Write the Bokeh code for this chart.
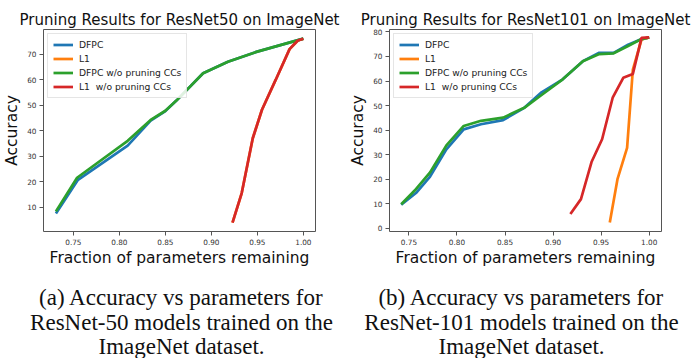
from bokeh.plotting import figure
from bokeh.layouts import row, column
from bokeh.models import Range1d, FixedTicker
from bokeh.core.properties import value
from bokeh.embed import file_html
from bokeh.resources import INLINE

# ---- ResNet50 results (fraction of params remaining vs accuracy) ----
r50_dfpc_x = [0.731, 0.755, 0.809, 0.834, 0.850, 0.862, 0.891, 0.918, 0.948, 1.000]
r50_dfpc_y = [7.5, 20.7, 34.1, 43.9, 47.7, 51.8, 62.5, 67.0, 70.8, 76.1]
r50_l1_x = [0.923, 0.933, 0.945, 0.955, 0.970, 0.985, 0.994, 1.000]
r50_l1_y = [3.9, 15.5, 37.0, 48.2, 60.0, 72.0, 75.4, 76.1]
r50_dfpc_nocc_x = [0.731, 0.754, 0.809, 0.834, 0.850, 0.862, 0.891, 0.918, 0.948, 1.000]
r50_dfpc_nocc_y = [8.3, 21.5, 36.0, 44.2, 47.8, 51.8, 62.5, 67.0, 70.8, 76.1]
r50_l1_nocc_x = [0.923, 0.933, 0.945, 0.955, 0.970, 0.985, 0.994, 1.000]
r50_l1_nocc_y = [3.9, 15.5, 37.0, 48.2, 60.0, 72.0, 75.4, 76.1]

# ---- ResNet101 results ----
r101_dfpc_x = [0.742, 0.758, 0.772, 0.789, 0.807, 0.825, 0.848, 0.870, 0.888, 0.910, 0.931, 0.948, 0.963, 0.978, 0.991, 1.000]
r101_dfpc_y = [9.6, 14.6, 21.1, 32.2, 40.3, 42.4, 44.1, 49.1, 55.4, 60.7, 68.1, 71.5, 71.5, 74.8, 76.9, 77.8]
r101_l1_x = [0.959, 0.967, 0.977, 0.983, 0.992, 1.000]
r101_l1_y = [2.4, 20.0, 32.8, 64.7, 76.9, 77.8]
r101_dfpc_nocc_x = [0.742, 0.756, 0.772, 0.789, 0.807, 0.825, 0.848, 0.870, 0.888, 0.910, 0.931, 0.948, 0.963, 0.978, 0.991, 1.000]
r101_dfpc_nocc_y = [9.8, 15.4, 22.8, 33.8, 41.7, 43.8, 45.1, 49.1, 54.3, 60.7, 68.1, 71.0, 71.3, 74.3, 76.9, 77.8]
r101_l1_nocc_x = [0.918, 0.929, 0.940, 0.951, 0.962, 0.973, 0.983, 0.992, 1.000]
r101_l1_nocc_y = [5.8, 11.9, 27.0, 36.3, 53.2, 61.3, 62.9, 77.6, 77.8]

series_names = ["DFPC", "L1", "DFPC w/o pruning CCs", "L1  w/o pruning CCs"]
series_colors = ["#1f77b4", "#ff7f0e", "#2ca02c", "#d62728"]

x_ticks = [0.75, 0.80, 0.85, 0.90, 0.95, 1.00]
r50_y_ticks = [10, 20, 30, 40, 50, 60, 70]
r101_y_ticks = [0, 10, 20, 30, 40, 50, 60, 70, 80]

captions_a = ["(a) Accuracy vs parameters for", "ResNet-50 models trained on the", "ImageNet dataset."]
captions_b = ["(b) Accuracy vs parameters for", "ResNet-101 models trained on the", "ImageNet dataset."]

FONT = "DejaVu Sans"
SPINE = "#555555"
PANEL_W, CHART_H, CAPTION_H = 346, 280, 78


def chart(title, series, xr, yr, yticks, border_left, frame_w, border_top, frame_bottom):
    p = figure(width=PANEL_W, height=CHART_H, output_backend="svg", toolbar_location=None,
               x_range=Range1d(*xr), y_range=Range1d(*yr),
               min_border_left=border_left, min_border_right=PANEL_W - border_left - frame_w,
               min_border_top=border_top, min_border_bottom=CHART_H - frame_bottom)
    p.title.text = title
    p.title.text_font = FONT
    p.title.text_font_size = "15px"
    p.title.text_font_style = "normal"
    p.title.align = "center"
    p.title.standoff = 1
    p.title.text_color = "#111111"

    p.grid.visible = False
    p.outline_line_color = SPINE
    p.outline_line_width = 1

    for ax in (p.xaxis[0], p.yaxis[0]):
        ax.axis_line_color = None
        ax.major_tick_line_color = SPINE
        ax.major_tick_out = 4
        ax.major_tick_in = 0
        ax.minor_tick_line_color = None
        ax.major_label_text_font = FONT
        ax.major_label_text_font_size = "7.3px"
        ax.major_label_text_color = "#333333"
        ax.axis_label_text_font = FONT
        ax.axis_label_text_font_size = "15.5px"
        ax.axis_label_text_font_style = "normal"
        ax.axis_label_text_color = "#111111"
        ax.major_label_standoff = 3
        ax.axis_label_standoff = 3
    p.xaxis.axis_label_standoff = 1

    p.xaxis.ticker = FixedTicker(ticks=x_ticks)
    p.xaxis.major_label_overrides = {t: f"{t:.2f}" for t in x_ticks}
    p.yaxis.ticker = FixedTicker(ticks=yticks)
    p.xaxis.axis_label = "Fraction of parameters remaining"
    p.yaxis.axis_label = "Accuracy"

    for (xs, ys), name, color in zip(series, series_names, series_colors):
        p.line(xs, ys, color=color, line_width=2.7, legend_label=name)

    lg = p.legend[0]
    lg.location = "top_left"
    lg.margin = 4
    lg.padding = 5
    lg.spacing = 3
    lg.glyph_height = 11
    lg.label_height = 11
    lg.glyph_width = 20
    lg.label_standoff = 6
    lg.label_text_font = FONT
    lg.label_text_font_size = "9.2px"
    lg.label_text_color = "#222222"
    lg.border_line_color = "#cccccc"
    lg.background_fill_alpha = 0.85
    return p


p50 = chart("Pruning Results for ResNet50 on ImageNet",
            [(r50_dfpc_x, r50_dfpc_y), (r50_l1_x, r50_l1_y),
             (r50_dfpc_nocc_x, r50_dfpc_nocc_y), (r50_l1_nocc_x, r50_l1_nocc_y)],
            (0.7175, 1.0132), (0.4, 79.7), r50_y_ticks,
            border_left=39, frame_w=276, border_top=24, frame_bottom=231)

p101 = chart("Pruning Results for ResNet101 on ImageNet",
             [(r101_dfpc_x, r101_dfpc_y), (r101_l1_x, r101_l1_y),
              (r101_dfpc_nocc_x, r101_dfpc_nocc_y), (r101_l1_nocc_x, r101_l1_nocc_y)],
             (0.7298, 1.0128), (-1.3, 81.0), r101_y_ticks,
             border_left=41, frame_w=274, border_top=29, frame_bottom=232)

# caption strip across both panels, no axes: coordinates are pixels from the bottom-left
cap = figure(width=2 * PANEL_W, height=CAPTION_H, output_backend="svg", toolbar_location=None,
             x_range=Range1d(0, 2 * PANEL_W), y_range=Range1d(0, CAPTION_H),
             x_axis_type=None, y_axis_type=None, min_border=0, outline_line_color=None)
cap.grid.visible = False
line_ys = [61, 36.5, 12]
for lines, cx in ((captions_a, 181), (captions_b, PANEL_W + 175)):
    cap.text(x=[cx] * len(lines), y=line_ys, text=lines, text_font=value("Liberation Serif"),
             text_font_size="23px", text_align="center", text_baseline="middle",
             text_color="#111111")

layout = column(row(p50, p101), cap)
open("out.html", "w").write(file_html(layout, INLINE))
